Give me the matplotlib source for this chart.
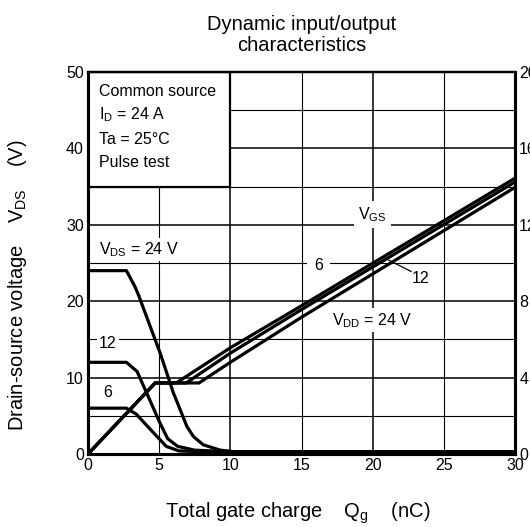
import matplotlib
matplotlib.use('Agg')
import matplotlib.pyplot as plt
from matplotlib.patches import Rectangle

plt.rcParams['font.family'] = ['Liberation Sans', 'DejaVu Sans']
plt.rcParams['mathtext.fontset'] = 'custom'
plt.rcParams['mathtext.rm'] = 'Liberation Sans'
plt.rcParams['mathtext.it'] = 'Liberation Sans:italic'
plt.rcParams['mathtext.bf'] = 'Liberation Sans:bold'

# ---- data ----
x_ticks = [0, 5, 10, 15, 20, 25, 30]
vds_ticks = [0, 10, 20, 30, 40, 50]
vgs_ticks = [0, 4, 8, 12, 16, 20]

# Drain-source voltage curves (left axis, V) vs gate charge (nC)
vds24_q = [0, 2.7, 3.3, 3.55, 5.07, 6.0, 6.95, 7.4, 8.1, 9.3, 10.3, 30]
vds24_v = [24, 24, 21.9, 20.8, 13.2, 8.0, 3.6, 2.3, 1.2, 0.5, 0.3, 0.3]

vds12_q = [0, 2.7, 3.45, 5.07, 5.6, 6.3, 7.5, 10, 30]
vds12_v = [12, 12, 10.8, 4.0, 2.0, 1.0, 0.5, 0.3, 0.3]

vds6_q = [0, 2.7, 3.4, 4.84, 5.5, 6.4, 8.0, 30]
vds6_v = [6, 6, 5.2, 2.3, 1.0, 0.4, 0.3, 0.3]

# Gate-source voltage curves (right axis, V) vs gate charge (nC)
vgs6_q = [0, 4.72, 6.2, 10, 15, 30]
vgs6_v = [0, 3.72, 3.72, 5.56, 7.76, 14.44]

vgs12_q = [0, 4.72, 6.9, 10, 15, 30]
vgs12_v = [0, 3.72, 3.72, 5.28, 7.56, 14.24]

vgs24_q = [0, 4.72, 7.8, 10, 15, 30]
vgs24_v = [0, 3.72, 3.72, 4.80, 7.16, 13.96]

# ---- figure ----
W, H = 530, 527
fig = plt.figure(figsize=(W / 100, H / 100), dpi=100)
ax = fig.add_axes([88 / W, (H - 454) / H, (515 - 88) / W, (454 - 72) / H])
ax.set_xlim(0, 30)
ax.set_ylim(0, 50)

# grid lines
for xv in x_ticks[1:-1]:
    ax.axvline(xv, color='black', lw=1.1 if xv % 10 == 0 else 0.8, zorder=0.5)
for yv in range(5, 50, 5):
    ax.axhline(yv, color='black', lw=1.1 if yv % 10 == 0 else 0.8, zorder=0.5)

# condition box
ax.add_patch(Rectangle((0, 35), 10, 15, facecolor='white', edgecolor='black',
                       lw=1.6, zorder=1.5))
box_fs = 11.5
ax.text(0.77, 47.4, 'Common source', fontsize=box_fs, va='center', ha='left', zorder=3)
ax.text(0.77, 44.4, r'I$_{\mathrm{D}}$ = 24 A', fontsize=box_fs, va='center', ha='left', zorder=3)
ax.text(0.77, 41.2, 'Ta = 25°C', fontsize=box_fs, va='center', ha='left', zorder=3)
ax.text(0.77, 38.1, 'Pulse test', fontsize=box_fs, va='center', ha='left', zorder=3)

lw = 2.3
ax.plot(vds24_q, vds24_v, color='black', lw=lw, zorder=2, solid_joinstyle='round')
ax.plot(vds12_q, vds12_v, color='black', lw=lw, zorder=2, solid_joinstyle='round')
ax.plot(vds6_q, vds6_v, color='black', lw=lw, zorder=2, solid_joinstyle='round')

bb = dict(facecolor='white', edgecolor='none', pad=1.5)
ax.text(0.77, 26.8, r'V$_{\mathrm{DS}}$ = 24 V', fontsize=box_fs, va='center', ha='left',
        bbox=bb, zorder=3)
ax.text(1.4, 14.4, '12', fontsize=box_fs, va='center', ha='center', bbox=bb, zorder=3)
ax.text(1.4, 8.0, '6', fontsize=box_fs, va='center', ha='center', bbox=bb, zorder=3)

ax.text(20.0, 31.3, r'V$_{\mathrm{GS}}$', fontsize=box_fs, va='center', ha='center',
        bbox=dict(facecolor='white', edgecolor='none', pad=3), zorder=3)
ax.text(16.2, 24.7, '6', fontsize=box_fs, va='center', ha='center',
        bbox=dict(facecolor='white', edgecolor='none', pad=5), zorder=3)
ax.text(23.4, 23.0, '12', fontsize=box_fs, va='center', ha='center', zorder=3)
ax.plot([21.1, 22.7], [25.4, 23.9], color='black', lw=0.9, zorder=3)
ax.text(20.0, 17.5, r'V$_{\mathrm{DD}}$ = 24 V', fontsize=box_fs, va='center', ha='center',
        bbox=dict(facecolor='white', edgecolor='none', pad=2), zorder=3)

ax.set_xticks(x_ticks)
ax.set_yticks(vds_ticks)
ax.tick_params(length=0, labelsize=11.5, pad=3)

ax2 = ax.twinx()
ax2.set_ylim(0, 20)
ax2.set_yticks(vgs_ticks)
ax2.tick_params(length=0, labelsize=11.5, pad=3)
for q, v in [(vgs6_q, vgs6_v), (vgs12_q, vgs12_v), (vgs24_q, vgs24_v)]:
    ax2.plot(q, v, color='black', lw=lw, solid_joinstyle='miter', clip_on=True)

for a in (ax, ax2):
    for s in ('left', 'bottom', 'right'):
        a.spines[s].set_linewidth(2.2)
    a.spines['top'].set_linewidth(1.6)

fig.text(302 / W, 1 - 24 / H, 'Dynamic input/output', fontsize=14.5, ha='center', va='center')
fig.text(302 / W, 1 - 45 / H, 'characteristics', fontsize=14.5, ha='center', va='center')
fig.text(298 / W, 14 / H, r'Total gate charge    Q$_{\mathrm{g}}$    (nC)', fontsize=14.5,
         ha='center', va='center')
fig.text(18 / W, 1 - 285 / H, r'Drain-source voltage    V$_{\mathrm{DS}}$    (V)',
         fontsize=14.5, ha='center', va='center', rotation=90)

fig.savefig('out.png', dpi=100)
